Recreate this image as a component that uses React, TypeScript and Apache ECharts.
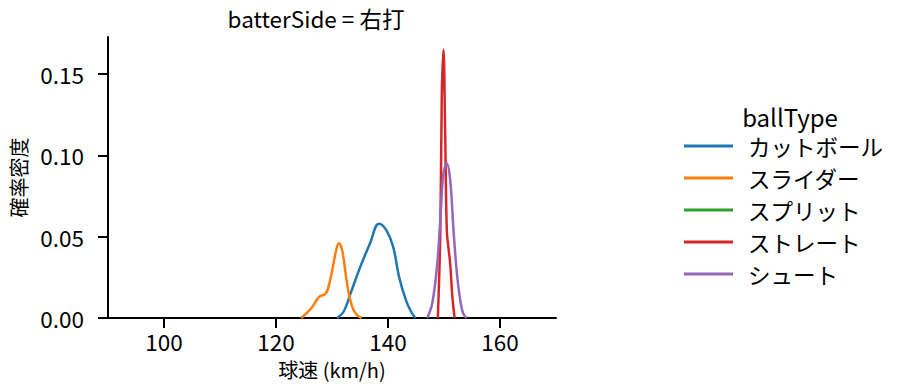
import React, { useEffect, useRef } from "react";
import * as echarts from "echarts";

const seriesNames = ["カットボール", "スライダー", "スプリット", "ストレート", "シュート"];
const seriesColors = ["#1f77b4", "#ff7f0e", "#2ca02c", "#d62728", "#9467bd"];

const cutterData: [number, number][] = [
  [130.9, 0], [132.1, 0.004], [133.3, 0.015], [135.0, 0.031], [136.8, 0.046],
  [138.4, 0.058], [139.7, 0.054], [140.9, 0.044], [142.0, 0.025], [143.2, 0.011],
  [144.1, 0.004], [144.9, 0],
];
const sliderData: [number, number][] = [
  [124.5, 0], [126.3, 0.006], [127.7, 0.013], [128.9, 0.0152], [129.8, 0.0254],
  [130.7, 0.041], [131.2, 0.046], [131.8, 0.042], [132.7, 0.021], [133.6, 0.007],
  [134.4, 0.002], [135.3, 0],
];
const splitData: [number, number][] = [];
const fastballData: [number, number][] = [
  [148.9, 0], [149.35, 0.054], [149.6, 0.136], [149.9, 0.165], [150.2, 0.1156],
  [150.5, 0.054], [150.8, 0.043], [151.1, 0.0336], [151.5, 0.013], [151.9, 0],
];
const shuutoData: [number, number][] = [
  [147.0, 0], [147.9, 0.009], [148.8, 0.0336], [149.4, 0.064], [149.9, 0.089],
  [150.5, 0.095], [151.1, 0.085], [151.7, 0.054], [152.3, 0.0275], [152.9, 0.011],
  [153.4, 0.003], [154.0, 0],
];
const allData = [cutterData, sliderData, splitData, fastballData, shuutoData];

const xTicks = [100, 120, 140, 160];
const yTicks = [0, 0.05, 0.1, 0.15];

const FONT = "'Noto Sans CJK JP', 'Noto Sans', sans-serif";

export default function App() {
  const ref = useRef<HTMLDivElement>(null);
  useEffect(() => {
    if (!ref.current) return;
    const chart = echarts.init(ref.current, undefined, { renderer: "svg" });
    chart.setOption({
      animation: false,
      backgroundColor: "#ffffff",
      textStyle: { fontFamily: FONT },
      title: [
        {
          text: "batterSide = 右打",
          left: 311,
          top: 2,
          textAlign: "center",
          textStyle: { fontFamily: FONT, fontSize: 22.5, fontWeight: "normal", color: "#000" },
        },
        {
          text: "ballType",
          left: 785,
          top: 99,
          textAlign: "center",
          textStyle: { fontFamily: FONT, fontSize: 24, fontWeight: "normal", color: "#000" },
        },
      ],
      legend: {
        orient: "vertical",
        left: 684,
        top: 130,
        padding: 0,
        itemWidth: 49,
        itemHeight: 3,
        itemGap: 0,
        icon: "rect",
        data: seriesNames,
        textStyle: {
          fontFamily: FONT,
          fontSize: 22.5,
          lineHeight: 32,
          color: "#000",
          padding: [0, 0, 0, 10],
        },
      },
      grid: { left: 100, right: 351, top: 37, bottom: 73 },
      xAxis: {
        type: "value",
        min: 90,
        max: 170,
        name: "球速 (km/h)",
        nameLocation: "middle",
        nameGap: 41,
        nameTextStyle: { fontFamily: FONT, fontSize: 20, color: "#000" },
        splitLine: { show: false },
        axisLine: { lineStyle: { color: "#000", width: 2 } },
        axisTick: { show: true, length: 10, lineStyle: { color: "#000", width: 2 }, customValues: xTicks },
        axisLabel: { fontFamily: FONT, fontSize: 22.5, color: "#000", margin: 12, customValues: xTicks },
      },
      yAxis: {
        type: "value",
        min: 0,
        max: 0.1728,
        name: "確率密度",
        nameLocation: "middle",
        nameGap: 80,
        nameTextStyle: { fontFamily: FONT, fontSize: 20, color: "#000" },
        splitLine: { show: false },
        axisLine: { show: true, lineStyle: { color: "#000", width: 2 } },
        axisTick: { show: true, length: 10, lineStyle: { color: "#000", width: 2 }, customValues: yTicks },
        axisLabel: {
          fontFamily: FONT,
          fontSize: 22.5,
          color: "#000",
          margin: 24,
          customValues: yTicks,
          formatter: (v: number) => v.toFixed(2),
        },
      },
      series: seriesNames.map((name, i) => ({
        name,
        type: "line",
        data: allData[i],
        showSymbol: false,
        smooth: 0.4,
        color: seriesColors[i],
        lineStyle: { width: 2.5, color: seriesColors[i] },
      })),
    });
    return () => chart.dispose();
  }, []);
  return (
    <div
      ref={ref}
      style={{ position: "fixed", left: 0, top: 0, width: 907, height: 391 }}
    />
  );
}
